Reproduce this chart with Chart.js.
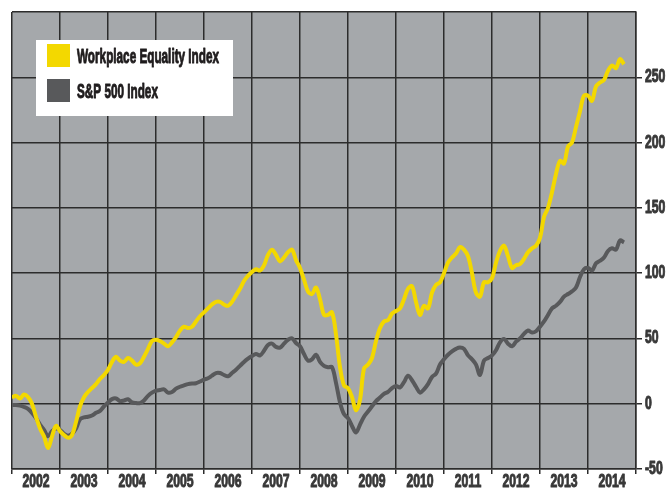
<!DOCTYPE html>
<html>
<head>
<meta charset="utf-8">
<script src="https://cdn.jsdelivr.net/npm/chart.js@4.4.1/dist/chart.umd.min.js"></script>
<style>
  html, body { margin: 0; padding: 0; background: #fff; }
  #wrap { width: 670px; height: 492px; }
</style>
</head>
<body>
<div id="wrap"><canvas id="equalityChart"></canvas></div>
<script>
const seriesNames = ['Workplace Equality Index', 'S&P 500 Index']
const years = [2002, 2003, 2004, 2005, 2006, 2007, 2008, 2009, 2010, 2011, 2012, 2013, 2014]
const yTicks = [-50, 0, 50, 100, 150, 200, 250, 300]

// monthly values, Jan 2002 .. Oct 2014
const weiValues = [
  5, 6, 4, 7, 5, 0, -10, -19, -25, -34, -25, -17,            // 2002
  -21, -24, -26, -24, -14, -2, 5, 9, 12, 15, 19, 22,         // 2003
  26, 32, 36, 33, 32, 35, 33, 30, 31, 36, 42, 48,            // 2004
  49, 48, 46, 44, 47, 51, 56, 59, 58, 59, 63, 67,            // 2005
  70, 73, 76, 78, 78, 76, 75, 78, 83, 88, 94, 98,            // 2006
  101, 103, 102, 106, 114, 118, 114, 109, 112, 116, 118, 110, // 2007
  104, 95, 86, 84, 89, 80, 68, 68, 70, 53, 28, 14,           // 2008
  12, 5, -5, 3, 27, 30, 35, 48, 58, 63, 64, 69,              // 2009
  71, 73, 80, 88, 90, 78, 68, 75, 73, 85, 91, 93,            // 2010
  100, 108, 112, 115, 120, 118, 113, 100, 85, 82, 93, 93,    // 2011
  96, 108, 117, 121, 113, 104, 106, 107, 111, 116, 119, 121, // 2012
  127, 143, 150, 162, 176, 186, 184, 197, 200, 212, 224, 236, // 2013
  236, 232, 243, 246, 248, 255, 259, 257, 264, 260           // 2014
]
const spValues = [
  -1, -1, -1.5, -2.5, -4, -7, -11, -16, -20, -25, -21, -19,  // 2002
  -20, -23, -24.5, -23, -19, -12, -10.5, -10, -9, -7, -5.5, -2, // 2003
  1, 3.5, 4, 2, 2.5, 3.4, 1, 0.5, 0.4, 2.5, 6, 8.5,          // 2004
  10, 10.5, 11, 8.5, 9, 11.5, 13, 14, 15, 15.5, 15.7, 17,    // 2005
  18.5, 19.5, 21.5, 23.5, 23.5, 22, 21, 23.5, 26, 29, 32, 34.5, // 2006
  36.5, 38, 37, 40.5, 45, 46, 43.5, 43, 46, 49, 50, 46.5,    // 2007
  44, 38, 33, 34, 37.5, 32, 29, 28, 28, 16, 1, -8,           // 2008
  -11, -17, -22, -16, -10, -6, -2, 2, 4.7, 7.5, 9, 12,       // 2009
  13.5, 12.5, 16.5, 21.5, 18, 13, 8.5, 11, 15, 20.5, 23, 30, // 2010
  34, 37.5, 40, 42, 43, 42, 37, 34, 30, 22, 33, 35,          // 2011
  37, 41, 47, 49.5, 46, 44, 47.5, 50, 53.5, 56, 54.5, 55.5,  // 2012
  59, 63, 68, 73, 75, 78, 82, 84, 86, 89, 97, 103,           // 2013
  104, 102, 107.5, 109.5, 112, 117, 119, 118, 125, 123.5     // 2014
]

const gridColor = '#2c2c2c'
const textColor = '#383838'
const labelFont = "'Liberation Sans', Arial, sans-serif"
const hidden = 'rgba(0,0,0,0)'

// place each monthly value at its fraction of the year
const toPoints = values => values.map((v, i) => ({ x: years[0] + i / 12, y: v }))

// the original uses a heavy condensed face; squeeze a bold sans and thicken it a bit
function squeezedText(ctx, text, x, y, squeeze, align) {
  ctx.save()
  ctx.translate(x, y)
  ctx.scale(squeeze, 1)
  ctx.textAlign = align
  ctx.strokeStyle = ctx.fillStyle
  ctx.lineWidth = 1
  ctx.lineJoin = 'round'
  ctx.strokeText(text, 0, 0)
  ctx.fillText(text, 0, 0)
  ctx.restore()
}

const plotBackground = {
  id: 'plotBackground',
  beforeDraw(chart) {
    const { ctx, chartArea: a } = chart
    ctx.save()
    ctx.fillStyle = '#a5a8ab'
    ctx.fillRect(a.left, a.top, a.right - a.left, a.bottom - a.top)
    ctx.restore()
  }
}

// tick labels, placed with the scales' own pixel mapping
const squeezedTicks = {
  id: 'squeezedTicks',
  afterDraw(chart) {
    const { ctx, chartArea: a, scales } = chart
    ctx.save()
    ctx.font = 'bold 18px ' + labelFont
    ctx.fillStyle = textColor
    ctx.textBaseline = 'middle'
    scales.x.ticks.forEach(t => {
      if (Number.isInteger(t.value)) return
      squeezedText(ctx, String(Math.floor(t.value)), scales.x.getPixelForValue(t.value), a.bottom + 13, 0.68, 'center')
    })
    scales.y.ticks.forEach(t => {
      if (t.value === yTicks[yTicks.length - 1]) return
      squeezedText(ctx, String(t.value), a.right + 9, scales.y.getPixelForValue(t.value), 0.68, 'left')
    })
    ctx.restore()
  }
}

// white box legend sitting inside the plot, top left
const boxLegend = {
  id: 'boxLegend',
  afterDraw(chart) {
    const { ctx } = chart
    const box = { x: 36, y: 40, w: 197, h: 76 }
    ctx.save()
    ctx.fillStyle = '#ffffff'
    ctx.fillRect(box.x, box.y, box.w, box.h)
    ctx.font = 'bold 21px ' + labelFont
    ctx.textBaseline = 'middle'
    const widest = ctx.measureText(chart.data.datasets[0].label).width
    const squeeze = Math.min(1, 142 / widest)
    chart.data.datasets.forEach((ds, i) => {
      const rowY = box.y + 4 + i * 35
      ctx.fillStyle = ds.borderColor
      ctx.fillRect(box.x + 11, rowY, 23, 23)
      ctx.fillStyle = '#1e1b1c'
      squeezedText(ctx, ds.label, box.x + 41, rowY + 13, squeeze, 'left')
    })
    ctx.restore()
  }
}

new Chart(document.getElementById('equalityChart'), {
  type: 'line',
  data: {
    datasets: [
      {
        label: seriesNames[0],
        data: toPoints(weiValues),
        borderColor: '#f3d800',
        borderWidth: 4,
        pointRadius: 0,
        tension: 0.35,
        fill: false
      },
      {
        label: seriesNames[1],
        data: toPoints(spValues),
        borderColor: '#58595b',
        borderWidth: 4,
        pointRadius: 0,
        tension: 0.35,
        fill: false
      }
    ]
  },
  options: {
    responsive: true,
    maintainAspectRatio: false,
    animation: false,
    layout: { padding: { left: 12, top: 12, right: 0, bottom: 0 } },
    plugins: {
      legend: { display: false },
      tooltip: { enabled: false }
    },
    scales: {
      x: {
        type: 'linear',
        min: years[0],
        max: years[years.length - 1] + 1,
        afterFit: scale => { scale.height = 23 },
        afterBuildTicks: scale => {
          const ticks = []
          years.forEach(y => {
            ticks.push({ value: y })
            ticks.push({ value: y + 0.5 })
          })
          ticks.push({ value: years[years.length - 1] + 1 })
          scale.ticks = ticks
        },
        border: { display: true, color: gridColor, width: 1.5 },
        grid: {
          lineWidth: 1.5,
          tickLength: 5,
          color: c => (c.tick && Number.isInteger(c.tick.value)) ? gridColor : hidden,
          tickColor: c => (c.tick && Number.isInteger(c.tick.value)) ? gridColor : hidden
        },
        ticks: { display: false, autoSkip: false }
      },
      y: {
        position: 'right',
        min: yTicks[0],
        max: yTicks[yTicks.length - 1],
        afterFit: scale => { scale.width = 34 },
        afterBuildTicks: scale => { scale.ticks = yTicks.map(v => ({ value: v })) },
        border: { display: true, color: gridColor, width: 1.5 },
        grid: {
          color: gridColor,
          lineWidth: 1.5,
          tickLength: 6,
          tickColor: c => (c.tick && c.tick.value === yTicks[yTicks.length - 1]) ? hidden : gridColor
        },
        ticks: { display: false }
      }
    }
  },
  plugins: [plotBackground, squeezedTicks, boxLegend]
})
</script>
</body>
</html>
